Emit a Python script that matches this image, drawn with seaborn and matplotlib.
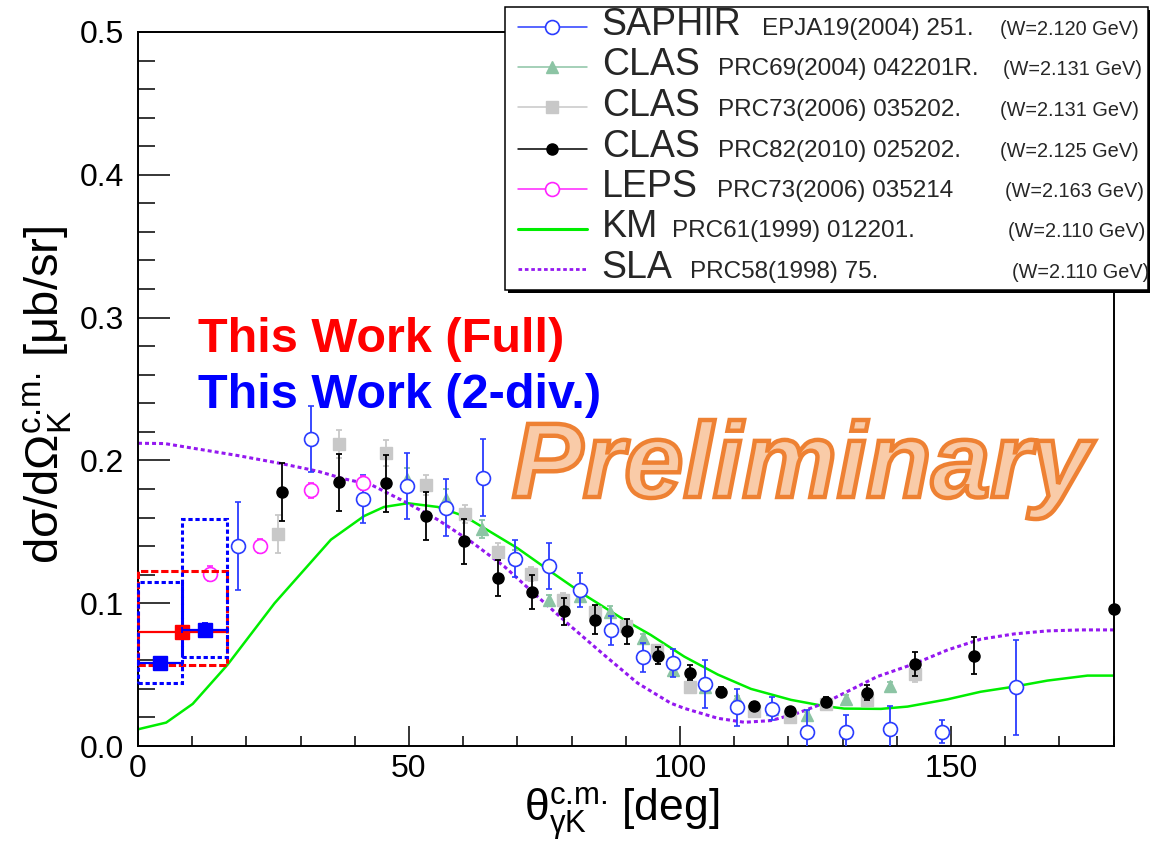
import numpy as np
import pandas as pd
import matplotlib
matplotlib.use("Agg")
import matplotlib.pyplot as plt
import matplotlib.patheffects as pe
from matplotlib.patches import Rectangle
from matplotlib.lines import Line2D
import seaborn as sns

# ---- data ----
saphir_th = [18.4, 31.9, 41.6, 49.6, 56.8, 63.6, 69.6, 75.8, 81.5, 87.3, 93.1, 98.8,
             104.6, 110.6, 117.0, 123.5, 130.6, 138.8, 148.3, 162.1]
saphir_y = [0.140, 0.215, 0.173, 0.182, 0.167, 0.188, 0.131, 0.126, 0.109, 0.081, 0.062, 0.058,
            0.0435, 0.027, 0.026, 0.010, 0.010, 0.012, 0.010, 0.041]
saphir_err = [0.031, 0.023, 0.017, 0.023, 0.020, 0.027, 0.013, 0.016, 0.012, 0.010, 0.010, 0.010,
              0.017, 0.013, 0.008, 0.015, 0.012, 0.016, 0.008, 0.033]

clas04_th = [49.6, 56.8, 63.5, 69.6, 75.8, 81.5, 87.1, 93.1, 98.8, 104.6, 110.6, 117.0, 123.5, 130.6, 138.7]
clas04_y = [0.187, 0.173, 0.152, 0.132, 0.102, 0.105, 0.094, 0.0755, 0.053, 0.041, 0.033, 0.026, 0.022, 0.033, 0.042]
clas04_err = [0.008, 0.007, 0.006, 0.005, 0.004, 0.004, 0.004, 0.003, 0.003, 0.003, 0.002, 0.002, 0.002, 0.003, 0.003]

clas06_th = [25.9, 37.0, 45.75, 53.1, 60.3, 66.5, 72.6, 78.5, 84.3, 90.0, 95.8, 101.8,
             113.7, 120.3, 126.9, 134.6, 143.4]
clas06_y = [0.1485, 0.2116, 0.205, 0.183, 0.1625, 0.136, 0.1206, 0.1024, 0.094, 0.084, 0.067, 0.041,
            0.0245, 0.0206, 0.0295, 0.0323, 0.0505]
clas06_err = [0.013, 0.010, 0.009, 0.007, 0.006, 0.006, 0.005, 0.005, 0.004, 0.004, 0.004, 0.003,
              0.003, 0.003, 0.003, 0.003, 0.006]

clas10_th = [26.6, 37.1, 45.75, 53.1, 60.2, 66.5, 72.7, 78.6, 84.4, 90.2, 95.9, 101.8, 107.6,
             113.7, 120.3, 126.9, 134.6, 143.4, 154.3, 180.0]
clas10_y = [0.178, 0.1846, 0.184, 0.161, 0.1433, 0.1176, 0.1078, 0.0942, 0.0884, 0.0802, 0.0633, 0.0514, 0.038,
            0.028, 0.0245, 0.031, 0.0374, 0.0575, 0.0631, 0.096]
clas10_err = [0.0205, 0.020, 0.020, 0.017, 0.016, 0.0125, 0.0117, 0.0095, 0.010, 0.0085, 0.006, 0.005, 0.003,
              0.003, 0.002, 0.003, 0.005, 0.0086, 0.013, 0.0]

leps_th = [13.2, 22.6, 31.9, 41.6]
leps_y = [0.1206, 0.140, 0.179, 0.184]
leps_err = [0.0053, 0.005, 0.005, 0.005]

km_th = [0, 5.2, 10.1, 16.5, 25.2, 35.6, 41.7, 45.4, 49.8, 55.3, 60.2, 70.0, 76.2, 82.3, 89.7, 94.6,
         100.8, 107, 113.1, 120.5, 126.6, 130.3, 137.1, 142, 149.4, 155.5, 161.7, 167.8, 175.2, 180]
km_y = [0.0117, 0.0164, 0.0295, 0.0568, 0.100, 0.1445, 0.161, 0.1674, 0.170, 0.1674, 0.161, 0.1386, 0.122,
        0.106, 0.0884, 0.0778, 0.0626, 0.050, 0.040, 0.0323, 0.028, 0.0262, 0.026, 0.0276, 0.0327, 0.038,
        0.0416, 0.0458, 0.0493, 0.0493]

sla_th = [0, 4.9, 11, 18.4, 26.4, 33.2, 38.1, 43, 49.1, 55.3, 61.4, 67.6, 73.7, 79.9, 86, 92.2, 98.3,
          100.8, 107, 111.9, 116.8, 121.7, 126.6, 131.5, 136.4, 143.2, 149.4, 155.5, 161.7, 167.8, 174, 180]
sla_y = [0.212, 0.2118, 0.208, 0.2034, 0.1978, 0.1924, 0.187, 0.183, 0.1713, 0.1585, 0.1433, 0.1257, 0.1047,
         0.0837, 0.0638, 0.044, 0.030, 0.0264, 0.0194, 0.0166, 0.0178, 0.023, 0.030, 0.0393, 0.0486, 0.0575,
         0.0673, 0.0748, 0.0785, 0.0806, 0.0813, 0.0813]

# this work: bin centres, half widths, values, stat errors, systematic band
full_th = [8.2]
full_hw = [8.2]
full_y = [0.080]
full_err = [0.002]
full_sys_lo = [0.0568]
full_sys_hi = [0.1222]

div_th = [4.1, 12.3]
div_hw = [4.1, 4.1]
div_y = [0.058, 0.081]
div_err = [0.004, 0.005]
div_sys_lo = [0.044, 0.0626]
div_sys_hi = [0.1145, 0.159]

legend_big = ["SAPHIR", "CLAS", "CLAS", "CLAS", "LEPS", "KM", "SLA"]
legend_ref = ["EPJA19(2004) 251.", "PRC69(2004) 042201R.", "PRC73(2006) 035202.",
              "PRC82(2010) 025202.", "PRC73(2006) 035214", "PRC61(1999) 012201.", "PRC58(1998) 75."]
legend_w = ["(W=2.120 GeV)", "(W=2.131 GeV)", "(W=2.131 GeV)", "(W=2.125 GeV)",
            "(W=2.163 GeV)", "(W=2.110 GeV)", "(W=2.110 GeV)"]

# ---- style ----
sns.set_style("ticks")
plt.rcParams['font.family'] = ['Liberation Sans', 'DejaVu Sans']
plt.rcParams['mathtext.fontset'] = 'custom'
plt.rcParams['mathtext.rm'] = 'Liberation Sans'
plt.rcParams['mathtext.it'] = 'Liberation Sans'
plt.rcParams['mathtext.default'] = 'regular'

W, H = 1150, 842
fig = plt.figure(figsize=(W / 100, H / 100), dpi=100)
ax = fig.add_axes([138 / W, 96 / H, 975.5 / W, 714 / H])

C_SAPHIR = "#2a3cff"
C_CLAS04 = "#8cc4a4"
C_CLAS06 = "#c8c8c8"
C_CLAS10 = "#000000"
C_LEPS = "#ff22ff"
C_KM = "#00ee00"
C_SLA = "#9418f0"

# theory curves
sns.lineplot(x=km_th, y=km_y, ax=ax, color=C_KM, lw=1.8, sort=False, estimator=None, zorder=2)
sns.lineplot(x=sla_th, y=sla_y, ax=ax, color=C_SLA, lw=2.2, sort=False, estimator=None,
             linestyle=(0, (1.3, 1.0)), zorder=2)

eb = dict(ls="none", capsize=2.3, elinewidth=1.3, capthick=1.3)
ax.errorbar(clas06_th, clas06_y, yerr=clas06_err, fmt="s", ms=9, color=C_CLAS06, mec=C_CLAS06, zorder=3, **eb)
ax.errorbar(clas04_th, clas04_y, yerr=clas04_err, fmt="^", ms=9, color=C_CLAS04, mec=C_CLAS04, zorder=3, **eb)
ax.errorbar(saphir_th, saphir_y, yerr=saphir_err, fmt="o", ms=10, color=C_SAPHIR, mfc="white",
            mec=C_SAPHIR, mew=1.2, zorder=4, **eb)
ax.errorbar(clas10_th, clas10_y, yerr=clas10_err, fmt="o", ms=8, color=C_CLAS10, zorder=5,
            clip_on=False, **eb)
ax.errorbar(leps_th, leps_y, yerr=leps_err, fmt="o", ms=10, color=C_LEPS, mfc="white",
            mec=C_LEPS, mew=1.2, zorder=4, **eb)

# this work: systematic boxes
for th, hw, lo, hi in zip(full_th, full_hw, full_sys_lo, full_sys_hi):
    ax.add_patch(Rectangle((th - hw, lo), 2 * hw, hi - lo, fill=False, ec="#ff0000", lw=2.2,
                           ls=(0, (2.4, 0.9)), zorder=6, clip_on=False))
for th, hw, lo, hi in zip(div_th, div_hw, div_sys_lo, div_sys_hi):
    ax.add_patch(Rectangle((th - hw, lo), 2 * hw, hi - lo, fill=False, ec="#0000ff", lw=2.2,
                           ls=(0, (1.4, 0.9)), zorder=6, clip_on=False))
ax.errorbar(full_th, full_y, xerr=full_hw, yerr=full_err, fmt="s", ms=9.5, color="#ff0000",
            elinewidth=1.6, capsize=0, zorder=7, clip_on=False)
ax.errorbar(div_th, div_y, xerr=div_hw, yerr=div_err, fmt="s", ms=9.5, color="#0000ff",
            elinewidth=1.6, capsize=2.3, capthick=1.3, zorder=8, clip_on=False)

# ---- axes ----
ax.set_xlim(0, 180)
ax.set_ylim(0, 0.5)
ax.set_xticks([0, 50, 100, 150])
ax.set_xticks(np.arange(0, 181, 10), minor=True)
ax.set_yticks(np.arange(0, 0.51, 0.1))
ax.set_yticks(np.arange(0, 0.51, 0.02), minor=True)
ax.set_yticklabels([f"{v:.1f}" for v in np.arange(0, 0.51, 0.1)])
ax.tick_params(axis="both", which="both", colors="black", labelcolor="black")
ax.tick_params(axis="x", which="major", direction="in", length=14.4, width=1.1, labelsize=23, pad=6)
ax.tick_params(axis="x", which="minor", direction="in", length=7.2, width=1.1)
ax.tick_params(axis="y", which="major", direction="in", length=23, width=1.1, labelsize=23, pad=10)
ax.tick_params(axis="y", which="minor", direction="in", length=12, width=1.1)
for s in ax.spines.values():
    s.set_linewidth(1.4)
    s.set_color("black")


def fx(px):
    return px / W


def fy(py):
    return 1 - py / H


# axis titles
fig.text(fx(622), fy(814), r"$θ_{γK}^{\text{c.m.}}$ [deg]", fontsize=32, ha="center", va="center",
         color="black")
fig.text(fx(48), fy(395), r"dσ/d$Ω_{K}^{\text{c.m.}}$ [μb/sr]", fontsize=34, rotation=90,
         ha="center", va="center", color="black")

# annotations
fig.text(fx(198), fy(352), "This Work (Full)", color="#ff0000", fontsize=35, fontweight="bold",
         va="baseline", ha="left")
fig.text(fx(198), fy(408), "This Work (2-div.)", color="#0000ff", fontsize=35, fontweight="bold",
         va="baseline", ha="left")
fig.text(fx(512), fy(497), "Preliminary", fontsize=76.5, fontweight="bold", fontstyle="italic",
         va="baseline", ha="left", color="#f9cba8",
         path_effects=[pe.PathPatchEffect(edgecolor="#ee8133", facecolor="#f9cba8", linewidth=3.2)])

# ---- legend box ----
fig.add_artist(Rectangle((fx(508), fy(293)), (1150 - 508) / W, (293 - 10) / H, transform=fig.transFigure,
                         fc="black", ec="black", lw=0, zorder=9))
fig.add_artist(Rectangle((fx(505), fy(290)), (1148 - 505) / W, (290 - 7) / H, transform=fig.transFigure,
                         fc="white", ec="black", lw=1.1, zorder=10))

rows_y = [35, 75, 115.7, 157, 197, 237.3, 277.7]
ref_x = [761.7, 718, 718, 718, 716.7, 671.7, 690]
w_x = [1000, 1002.7, 1000, 1000, 1005, 1008.3, 1011.7]
styles = [
    dict(color=C_SAPHIR, lw=1.1, marker="o", ms=10, mfc="white", mec=C_SAPHIR, mew=1.2),
    dict(color=C_CLAS04, lw=1.1, marker="^", ms=9, mfc=C_CLAS04, mec=C_CLAS04),
    dict(color=C_CLAS06, lw=1.1, marker="s", ms=9, mfc=C_CLAS06, mec=C_CLAS06),
    dict(color=C_CLAS10, lw=1.1, marker="o", ms=8, mfc=C_CLAS10, mec=C_CLAS10),
    dict(color=C_LEPS, lw=1.1, marker="o", ms=10, mfc="white", mec=C_LEPS, mew=1.2),
    dict(color=C_KM, lw=2.2),
    dict(color=C_SLA, lw=2.0, linestyle=(0, (1.3, 1.0))),
]
for i in range(7):
    yc = rows_y[i] - 8.5
    ln = Line2D([fx(518), fx(587)], [fy(yc), fy(yc)], transform=fig.transFigure, zorder=11,
                **{k: v for k, v in styles[i].items() if k not in ("marker", "ms", "mfc", "mec", "mew")})
    fig.add_artist(ln)
    if "marker" in styles[i]:
        mk = Line2D([fx(552)], [fy(yc)], transform=fig.transFigure, zorder=12, ls="none",
                    marker=styles[i]["marker"], ms=styles[i]["ms"], mfc=styles[i]["mfc"],
                    mec=styles[i]["mec"], mew=styles[i].get("mew", 1.0))
        fig.add_artist(mk)
    fig.text(fx(601.7), fy(rows_y[i]), legend_big[i], fontsize=27, va="baseline", ha="left", zorder=12)
    fig.text(fx(ref_x[i]), fy(rows_y[i]), legend_ref[i], fontsize=17.5, va="baseline", ha="left", zorder=12)
    fig.text(fx(w_x[i]), fy(rows_y[i]), legend_w[i], fontsize=14.3, va="baseline", ha="left", zorder=12)

fig.savefig("out.png", dpi=100)
